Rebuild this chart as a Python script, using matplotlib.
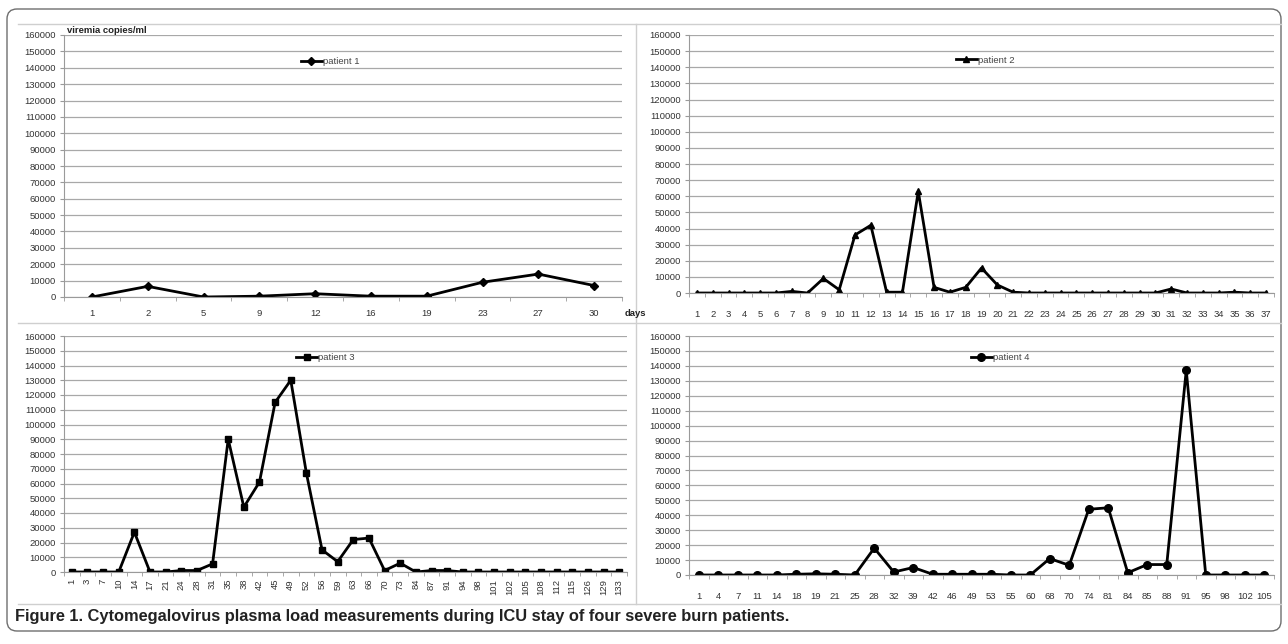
import matplotlib
matplotlib.use("Agg")
import matplotlib.pyplot as plt
from matplotlib.patches import FancyBboxPatch

plt.rcParams['font.family'] = ['Liberation Sans', 'DejaVu Sans']

# patient 1
days1 = ['1', '2', '5', '9', '12', '16', '19', '23', '27', '30']
load1 = [0, 6500, 0, 500, 2000, 500, 500, 9000, 14000, 7000]

# patient 2
days2 = [str(d) for d in range(1, 38)]
load2 = [0, 0, 0, 0, 0, 0, 1000, 0, 9000, 2000,
         36000, 42000, 500, 500, 63000, 3500, 500, 3500, 15500, 5000,
         500, 0, 0, 0, 0, 0, 0, 0, 0, 0,
         2500, 0, 0, 0, 500, 0, 0]

# patient 3
days3 = ['1', '3', '7', '10', '14', '17', '21', '24', '28', '31', '35', '38',
         '42', '45', '49', '52', '56', '59', '63', '66', '70', '73', '84', '87',
         '91', '94', '98', '101', '102', '105', '108', '112', '115', '126',
         '129', '133']
load3 = [0, 0, 0, 0, 27000, 0, 0, 1000, 1000, 5500, 90000, 44000,
         61000, 115000, 130000, 67000, 15000, 7000, 22000, 23000, 1000, 6000,
         0, 1000, 1000, 0, 0, 0, 0, 0, 0, 0, 0, 0, 0, 0]

# patient 4
days4 = ['1', '4', '7', '11', '14', '18', '19', '21', '25', '28', '32', '39',
         '42', '46', '49', '53', '55', '60', '68', '70', '74', '81', '84', '85',
         '88', '91', '95', '98', '102', '105']
load4 = [0, 0, 0, 0, 0, 500, 800, 500, 0, 18000, 2000, 5000,
         500, 500, 500, 500, 0, 0, 11000, 6500, 44000, 45000, 1500, 7000,
         7000, 137000, 0, 0, 0, 0]

yticks = list(range(0, 160001, 10000))

W, H = 1288, 644
fig = plt.figure(figsize=(W / 100, H / 100), dpi=100)
fig.patch.set_facecolor('white')


def px(l, t, r, b):
    return [l / W, 1 - b / H, (r - l) / W, (b - t) / H]


# background layer for the frame and separators, in pixel coordinates
bg = fig.add_axes([0, 0, 1, 1], zorder=-1)
bg.set_xlim(0, W)
bg.set_ylim(H, 0)
bg.axis('off')
bg.add_patch(FancyBboxPatch((7, 9), 1274, 622, boxstyle='round,pad=0,rounding_size=10',
                            fc='white', ec='#6e6e6e', lw=1.0))
sep = dict(color='#cfcfcf', lw=1.0)
bg.plot([18, 1281], [24, 24], **sep)
bg.plot([18, 1281], [323, 323], **sep)
bg.plot([18, 1281], [604, 604], **sep)
bg.plot([636, 636], [24, 604], **sep)
bg.text(15, 616, 'Figure 1. Cytomegalovirus plasma load measurements during ICU stay of four severe burn patients.',
        fontsize=11.8, fontweight='bold', color='#222222', va='center', ha='left')

panels = [
    (days1, load1, 'D', 'patient 1', px(64, 35, 622, 297), (0.477, 0.897), 0, 4.5, 9),
    (days2, load2, '^', 'patient 2', px(689, 35, 1274, 293), (0.506, 0.903), 0, 4.5, 12),
    (days3, load3, 's', 'patient 3', px(64, 336, 627, 572), (0.464, 0.907), 90, 4.5, 5),
    (days4, load4, 'o', 'patient 4', px(689, 336, 1274, 575), (0.532, 0.908), 0, 5.5, 12),
]

axes = []
for days, load, mk, name, pos, legpos, rot, ms, pad in panels:
    ax = fig.add_axes(pos)
    x = list(range(len(days)))
    ax.plot(x, load, color='black', lw=2.0, marker=mk, ms=ms, label=name)
    ax.set_xlim(-0.5, len(days) - 0.5)
    ax.set_ylim(0, 160000)
    ax.set_yticks(yticks)
    ax.set_yticklabels([str(v) for v in yticks])
    ax.set_xticks(x)
    if rot:
        ax.set_xticklabels(days, rotation=90, ha='center', va='top')
    else:
        ax.set_xticklabels(days)
    ax.set_xticks([i - 0.5 for i in range(len(days) + 1)], minor=True)
    ax.tick_params(axis='x', which='major', length=0, pad=pad,
                   labelsize=6.8, labelcolor='#333333')
    ax.tick_params(axis='x', which='minor', length=3, direction='out', color='#9a9a9a')
    ax.tick_params(axis='y', length=3, color='#9a9a9a', labelsize=6.8,
                   labelcolor='#333333', pad=3)
    ax.grid(axis='y', color='#a8a8a8', lw=0.9)
    ax.set_axisbelow(True)
    for s in ['top', 'right']:
        ax.spines[s].set_visible(False)
    ax.spines['left'].set_color('#9a9a9a')
    ax.spines['bottom'].set_color('#9a9a9a')
    leg = ax.legend(loc='center', bbox_to_anchor=legpos, frameon=False,
                    fontsize=6.8, handlelength=2.2, handletextpad=0.1,
                    borderpad=0)
    for t in leg.get_texts():
        t.set_color('#444444')
    axes.append(ax)

axes[0].text(0.005, 1.0, 'viremia copies/ml', transform=axes[0].transAxes,
             fontsize=6.8, fontweight='bold', color='#222222', va='bottom', ha='left')
axes[0].text(1.005, -0.062, 'days', transform=axes[0].transAxes,
             fontsize=6.8, fontweight='bold', color='#222222', va='center', ha='left')

fig.savefig('out.png', dpi=100)
